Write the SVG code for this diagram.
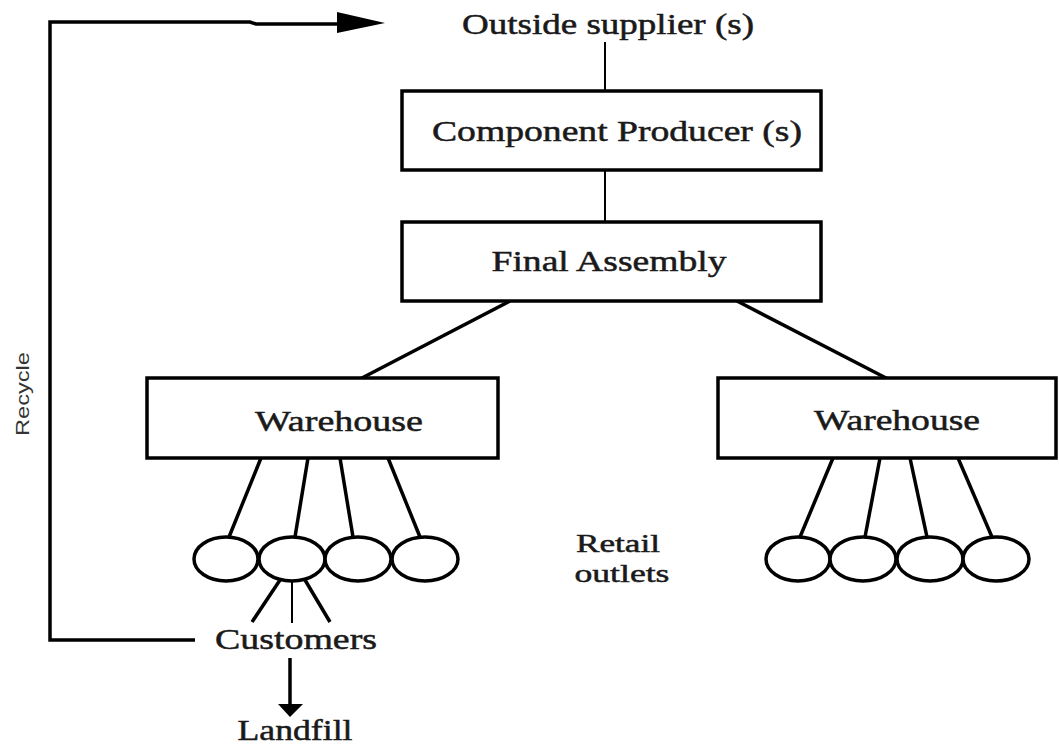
<svg xmlns="http://www.w3.org/2000/svg" width="1059" height="747" viewBox="0 0 1059 747">
  <style>
    .box { fill: #ffffff; stroke: #000000; stroke-width: 3.5; }
    .outlet { fill: #ffffff; stroke: #000000; stroke-width: 3.5; }
    .lbl { font-family: "Liberation Serif", "Times New Roman", serif; font-size: 30px; fill: #1a1a1a; stroke: #1a1a1a; stroke-width: 0.5; text-anchor: middle; }
    .small { font-size: 26px; }
    .thin { stroke: #000000; stroke-width: 2; fill: none; }
    .link { stroke: #000000; stroke-width: 3.5; fill: none; }
    .side { font-family: "Liberation Sans", Arial, sans-serif; font-size: 19px; fill: #333333; text-anchor: middle; }
  </style>
  <rect width="1059" height="747" fill="#ffffff"/>

  <!-- connectors -->
  <g id="connectors">
    <line class="thin" x1="605" y1="42" x2="605" y2="91"/>
    <line class="thin" x1="605" y1="170" x2="605" y2="222"/>
    <line class="link" x1="510" y1="301" x2="360" y2="379"/>
    <line class="link" x1="737" y1="301" x2="888" y2="379"/>
    <!-- left warehouse to outlets -->
    <line class="link" x1="261" y1="458" x2="229" y2="537"/>
    <line class="link" x1="308" y1="458" x2="295" y2="537"/>
    <line class="link" x1="340" y1="458" x2="353" y2="537"/>
    <line class="link" x1="388" y1="458" x2="420" y2="537"/>
    <!-- right warehouse to outlets -->
    <line class="link" x1="833" y1="458" x2="800" y2="537"/>
    <line class="link" x1="880" y1="458" x2="865" y2="537"/>
    <line class="link" x1="910" y1="458" x2="927" y2="537"/>
    <line class="link" x1="958" y1="458" x2="992" y2="537"/>
    <!-- outlet to customers -->
    <line class="link" x1="280" y1="580" x2="252" y2="622"/>
    <line class="thin" x1="292" y1="580" x2="292" y2="623"/>
    <line class="link" x1="305" y1="580" x2="330" y2="622"/>
    <!-- recycle loop -->
    <polyline class="link" points="195,640 50,640 50,22 250,22 256,24 337,24"/>
    <path d="M337,12 L385,23 L337,33 z" fill="#000000"/>
    <!-- landfill -->
    <line class="link" x1="290" y1="658" x2="290" y2="706"/>
    <path d="M278,704 L303,704 L290,717 z" fill="#000000"/>
  </g>

  <g id="supplier">
    <text class="lbl" x="608" y="34" textLength="292" lengthAdjust="spacingAndGlyphs">Outside supplier (s)</text>
  </g>

  <g id="component-producer">
    <rect class="box" x="402" y="91" width="419" height="79"/>
    <text class="lbl" x="617" y="141" textLength="370" lengthAdjust="spacingAndGlyphs">Component Producer (s)</text>
  </g>

  <g id="final-assembly">
    <rect class="box" x="402" y="222" width="419" height="79"/>
    <text class="lbl" x="609" y="271" textLength="235" lengthAdjust="spacingAndGlyphs">Final Assembly</text>
  </g>

  <g id="warehouse-left">
    <rect class="box" x="147" y="378" width="351" height="80"/>
    <text class="lbl" x="339" y="431" textLength="168" lengthAdjust="spacingAndGlyphs">Warehouse</text>
  </g>

  <g id="warehouse-right">
    <rect class="box" x="718" y="378" width="338" height="80"/>
    <text class="lbl" x="897" y="430" textLength="166" lengthAdjust="spacingAndGlyphs">Warehouse</text>
  </g>

  <g id="outlets-left">
    <ellipse class="outlet" cx="226" cy="559" rx="32" ry="22"/>
    <ellipse class="outlet" cx="292" cy="559" rx="33" ry="22"/>
    <ellipse class="outlet" cx="358" cy="559" rx="33" ry="22"/>
    <ellipse class="outlet" cx="425" cy="559" rx="33" ry="22"/>
  </g>

  <g id="outlets-right">
    <ellipse class="outlet" cx="798" cy="559" rx="32" ry="22"/>
    <ellipse class="outlet" cx="863" cy="559" rx="33" ry="22"/>
    <ellipse class="outlet" cx="930" cy="559" rx="33" ry="22"/>
    <ellipse class="outlet" cx="996" cy="559" rx="33" ry="22"/>
  </g>

  <g id="retail-label">
    <text class="lbl small" x="618" y="552" textLength="84" lengthAdjust="spacingAndGlyphs">Retail</text>
    <text class="lbl small" x="622" y="582" textLength="95" lengthAdjust="spacingAndGlyphs">outlets</text>
  </g>

  <g id="customers">
    <text class="lbl" x="296" y="649" textLength="162" lengthAdjust="spacingAndGlyphs">Customers</text>
  </g>

  <g id="landfill">
    <text class="lbl" x="295" y="740" textLength="115" lengthAdjust="spacingAndGlyphs">Landfill</text>
  </g>

  <g id="recycle-label">
    <text class="side" transform="translate(29,394) rotate(-90)" textLength="84" lengthAdjust="spacingAndGlyphs">Recycle</text>
  </g>
</svg>
